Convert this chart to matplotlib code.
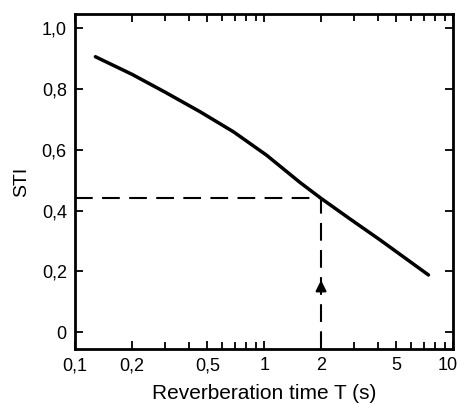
import matplotlib.pyplot as plt
from matplotlib.ticker import FixedLocator, NullFormatter
from matplotlib.transforms import ScaledTranslation

# curve (reverberation time in s, STI)
rev_time = [0.128, 0.2, 0.3, 0.458, 0.688, 1.03, 1.55, 2.0, 2.85, 4.11, 7.4]
sti = [0.906, 0.848, 0.789, 0.725, 0.659, 0.582, 0.492, 0.44, 0.372,
       0.303, 0.188]

# reading example: T = 2 s gives STI ~0.44
read_t = 2.0
read_sti = 0.44

x_ticks = [0.1, 0.2, 0.5, 1, 2, 5, 10]
x_labels = ["0,1", "0,2", "0,5", "1", "2", "5", "10"]
x_minor = [0.3, 0.4, 0.6, 0.7, 0.8, 0.9, 3, 4, 6, 7, 8, 9]
y_ticks = [0, 0.2, 0.4, 0.6, 0.8, 1.0]
y_labels = ["0", "0,2", "0,4", "0,6", "0,8", "1,0"]

plt.rcParams['font.family'] = ['Liberation Sans', 'DejaVu Sans']

fig = plt.figure(figsize=(4.61, 4.05), dpi=100)
ax = fig.add_axes([0.163, 0.138, 0.82, 0.827])

ax.plot(rev_time, sti, color='black', linewidth=2.5, solid_capstyle='round',
        solid_joinstyle='round')

# dashed reading lines
ax.plot([0.1, read_t], [read_sti, read_sti], color='black', linewidth=1.5,
        dashes=(8.5, 4.5))
ax.plot([read_t, read_t], [-0.056, read_sti], color='black', linewidth=1.5,
        dashes=(8.5, 4.5))
ax.annotate("", xy=(read_t, 0.18), xytext=(read_t, 0.12),
            arrowprops=dict(arrowstyle='-|>', color='black', lw=1.5,
                            mutation_scale=16))

ax.set_xscale('log')
ax.set_xlim(0.1, 10)
ax.set_ylim(-0.056, 1.046)

ax.xaxis.set_major_locator(FixedLocator(x_ticks))
ax.set_xticklabels(x_labels)
ax.xaxis.set_minor_locator(FixedLocator(x_minor))
ax.xaxis.set_minor_formatter(NullFormatter())
ax.set_yticks(y_ticks)
ax.set_yticklabels(y_labels)

ax.tick_params(which='both', direction='in', top=True, right=True,
               width=1.3, labelsize=13, pad=6)
ax.tick_params(which='major', length=6)
ax.tick_params(which='minor', length=5)

# keep the "10" label inside the figure
last = ax.get_xticklabels()[-1]
last.set_transform(last.get_transform() + ScaledTranslation(-4 / 72, 0, fig.dpi_scale_trans))

for s in ax.spines.values():
    s.set_linewidth(2)

ax.set_xlabel("Reverberation time T (s)", fontsize=15, labelpad=7)
ax.set_ylabel("STI", fontsize=14, labelpad=8)

fig.savefig("out.png", dpi=100)
